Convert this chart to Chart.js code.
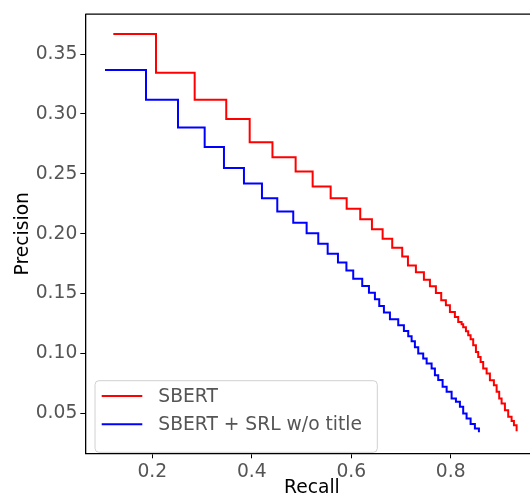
<!DOCTYPE html>
<html>
<head>
<meta charset="utf-8">
<script src="https://cdn.jsdelivr.net/npm/chart.js@4"></script>
<style>
html, body { margin: 0; padding: 0; overflow: hidden; background: #fff; }
</style>
</head>
<body>
<canvas id="chart" width="560" height="498"></canvas>
<script>
// precision / recall (points where the precision drops)
const sbertRecall = [0.1216, 0.2074, 0.2852, 0.3487, 0.3958, 0.4416, 0.4882, 0.5224, 0.5586, 0.5908,
    0.6181, 0.6416, 0.6631, 0.6824, 0.7025, 0.7140, 0.7300, 0.7461, 0.7582, 0.7702,
    0.7809, 0.7903, 0.7984, 0.8084, 0.8151, 0.8219, 0.8251, 0.8306, 0.8352, 0.8400,
    0.8452, 0.8507, 0.8553, 0.8601, 0.8653, 0.8722, 0.8788, 0.8868, 0.8923, 0.8975,
    0.9023, 0.9090, 0.9156, 0.9224, 0.9271, 0.9325];
const sbertPrecision = [0.3667, 0.3344, 0.3119, 0.2958, 0.2763, 0.2638, 0.2519, 0.2394, 0.2297, 0.2208,
    0.2122, 0.2038, 0.1958, 0.1883, 0.1811, 0.1736, 0.1678, 0.1617, 0.1561, 0.1505,
    0.1444, 0.1403, 0.1347, 0.1305, 0.1263, 0.1244, 0.1219, 0.1186, 0.1152, 0.1119,
    0.1069, 0.1013, 0.0972, 0.0930, 0.0875, 0.0833, 0.0777, 0.0736, 0.0680, 0.0625,
    0.0583, 0.0527, 0.0472, 0.0436, 0.0402, 0.0352];

const srlRecall = [0.1049, 0.1873, 0.2517, 0.3053, 0.3441, 0.3843, 0.4205, 0.4513, 0.4834, 0.5103,
    0.5337, 0.5526, 0.5733, 0.5903, 0.6040, 0.6221, 0.6356, 0.6476, 0.6563, 0.6657,
    0.6778, 0.6945, 0.7059, 0.7146, 0.7214, 0.7280, 0.7347, 0.7447, 0.7516, 0.7616,
    0.7682, 0.7749, 0.7837, 0.7918, 0.8018, 0.8105, 0.8185, 0.8251, 0.8319, 0.8400,
    0.8486, 0.8567];
const srlPrecision = [0.3367, 0.3119, 0.2888, 0.2725, 0.2550, 0.2419, 0.2297, 0.2186, 0.2092, 0.2005,
    0.1917, 0.1833, 0.1761, 0.1694, 0.1625, 0.1563, 0.1508, 0.1453, 0.1397, 0.1342,
    0.1286, 0.1236, 0.1188, 0.1144, 0.1103, 0.1053, 0.1000, 0.0958, 0.0917, 0.0875,
    0.0819, 0.0778, 0.0722, 0.0680, 0.0625, 0.0597, 0.0555, 0.0500, 0.0458, 0.0411,
    0.0375, 0.0342];

const seriesNames = ['SBERT', 'SBERT + SRL w/o title'];
const xTicks = [0.2, 0.4, 0.6, 0.8];
const yTicks = [0.05, 0.10, 0.15, 0.20, 0.25, 0.30, 0.35];

const FONT = 'DejaVu Sans';
const FS = 18.7;

function toPoints(xs, ys) {
    return xs.map((x, i) => ({ x: x, y: ys[i] }));
}

// matplotlib-like legend box in the lower left + top spine
const extras = {
    id: 'extras',
    afterDatasetsDraw(chart) {
        const c = chart.ctx;
        const a = chart.chartArea;
        c.save();
        c.strokeStyle = '#000';
        c.lineWidth = 1.3;
        c.beginPath();
        c.moveTo(a.left, a.top);
        c.lineTo(a.right, a.top);
        c.stroke();

        const bx = 95, by = 380.7, bw = 282.3, bh = 71.6, r = 4;
        c.beginPath();
        c.moveTo(bx + r, by);
        c.arcTo(bx + bw, by, bx + bw, by + bh, r);
        c.arcTo(bx + bw, by + bh, bx, by + bh, r);
        c.arcTo(bx, by + bh, bx, by, r);
        c.arcTo(bx, by, bx + bw, by, r);
        c.closePath();
        c.fillStyle = 'rgba(255,255,255,0.8)';
        c.fill();
        c.strokeStyle = '#d0d0d0';
        c.lineWidth = 1;
        c.stroke();

        const rows = [396, 424.3];
        chart.data.datasets.forEach((ds, i) => {
            c.strokeStyle = ds.borderColor;
            c.lineWidth = 2;
            c.beginPath();
            c.moveTo(101.7, rows[i]);
            c.lineTo(142.3, rows[i]);
            c.stroke();
            c.fillStyle = '#555';
            c.font = FS + 'px "' + FONT + '"';
            c.textBaseline = 'middle';
            c.textAlign = 'left';
            c.fillText(ds.label, 158.3, rows[i] + 1);
        });
        c.restore();
    }
};

const ctx = document.getElementById('chart').getContext('2d');
const chart = new Chart(ctx, {
    type: 'line',
    data: {
        datasets: [{
            label: seriesNames[0],
            data: toPoints(sbertRecall, sbertPrecision),
            borderColor: '#ff0000',
            borderWidth: 2,
            stepped: 'before',
            pointRadius: 0,
            fill: false
        }, {
            label: seriesNames[1],
            data: toPoints(srlRecall, srlPrecision),
            borderColor: '#0000ff',
            borderWidth: 2,
            stepped: 'before',
            pointRadius: 0,
            fill: false
        }]
    },
    options: {
        responsive: false,
        animation: false,
        layout: { padding: { top: 13.3, right: 21.5, left: 0, bottom: 0 } },
        plugins: { legend: { display: false }, tooltip: { enabled: false } },
        scales: {
            x: {
                type: 'linear',
                min: 0.0653,
                max: 0.9765,
                afterFit(scale) { scale.height = 44.7; },
                afterBuildTicks(scale) { scale.ticks = xTicks.map(v => ({ value: v })); },
                grid: { drawOnChartArea: false, color: '#000', tickLength: 5, tickWidth: 1 },
                border: { display: true, color: '#000', width: 1.3 },
                ticks: {
                    color: '#555',
                    padding: 3,
                    maxRotation: 0,
                    font: { family: FONT, size: FS },
                    callback: v => v.toFixed(1)
                },
                title: {
                    display: true,
                    text: 'Recall',
                    color: '#000',
                    padding: { top: 0, bottom: 0 },
                    font: { family: FONT, size: FS, lineHeight: 1.05 }
                }
            },
            y: {
                type: 'linear',
                min: 0.0167,
                max: 0.3833,
                afterFit(scale) { scale.width = 85.3; },
                afterBuildTicks(scale) { scale.ticks = yTicks.map(v => ({ value: v })); },
                grid: { drawOnChartArea: false, color: '#000', tickLength: 5, tickWidth: 1 },
                border: { display: true, color: '#000', width: 1.3 },
                ticks: {
                    color: '#555',
                    padding: 3,
                    font: { family: FONT, size: FS },
                    callback: v => v.toFixed(2)
                },
                title: {
                    display: true,
                    text: 'Precision',
                    color: '#000',
                    padding: { top: 13, bottom: 0 },
                    font: { family: FONT, size: FS, lineHeight: 1.1 }
                }
            }
        }
    },
    plugins: [extras]
});
</script>
</body>
</html>
